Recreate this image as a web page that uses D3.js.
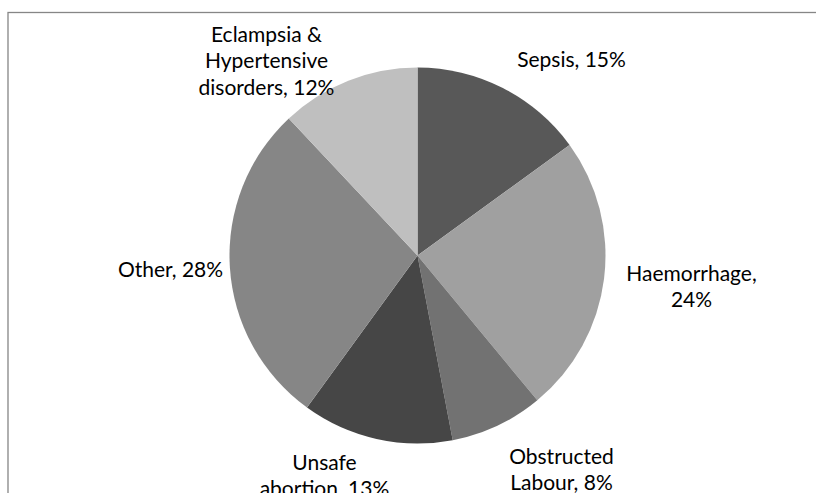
<!DOCTYPE html>
<html>
<head>
<meta charset="utf-8">
<script src="https://cdn.jsdelivr.net/npm/d3@7/dist/d3.min.js"></script>
<style>
  html, body { margin: 0; padding: 0; background: #fff; }
  svg { display: block; }
</style>
</head>
<body>
<svg id="chart" width="816" height="493"></svg>
<script>
// ---- data ----
const categories = ["Sepsis", "Haemorrhage", "Obstructed Labour", "Unsafe abortion", "Other", "Eclampsia & Hypertensive disorders"];
const values = [15, 24, 8, 13, 28, 12];
const labelLines = [
  ["Sepsis, 15%"],
  ["Haemorrhage,", "24%"],
  ["Obstructed", "Labour, 8%"],
  ["Unsafe", "abortion, 13%"],
  ["Other, 28%"],
  ["Eclampsia &", "Hypertensive", "disorders, 12%"]
];
const colors = ["#585858", "#a0a0a0", "#727272", "#464646", "#868686", "#bfbfbf"];

// ---- layout ----
const W = 816, H = 493;
const cx = 417.5, cy = 255.5, R = 188;
// label block centre offsets from pie centre (layout, Excel best-fit)
const labelPos = [
  [154, -196],
  [274, 31],
  [144, 214],
  [-93, 220],
  [-247, 14],
  [-151, -195]
];
const fontSize = 21, lineH = 26.5;

const svg = d3.select("#chart");

// frame
svg.append("rect")
  .attr("x", 8).attr("y", 12.5)
  .attr("width", 840).attr("height", 520)
  .attr("fill", "none").attr("stroke", "#868686").attr("stroke-width", 1.3);

const pie = d3.pie().sort(null).value(d => d)(values);
const arc = d3.arc().innerRadius(0).outerRadius(R);

const g = svg.append("g").attr("transform", `translate(${cx},${cy})`);
g.selectAll("path").data(pie).join("path")
  .attr("d", arc)
  .attr("fill", (d, i) => colors[i]);

const lg = g.selectAll("text.lbl").data(pie).join("text")
  .attr("class", "lbl")
  .attr("text-anchor", "middle")
  .attr("font-family", "Lato, 'Open Sans', sans-serif")
  .attr("font-size", fontSize)
  .attr("fill", "#000");

lg.each(function(d, i) {
  const lines = labelLines[i];
  const [lx, ly] = labelPos[i];
  const n = lines.length;
  const t = d3.select(this);
  lines.forEach((ln, k) => {
    t.append("tspan")
      .attr("x", lx)
      .attr("y", ly + (k - (n - 1) / 2) * lineH + fontSize * 0.36)
      .text(ln);
  });
});
</script>
</body>
</html>
